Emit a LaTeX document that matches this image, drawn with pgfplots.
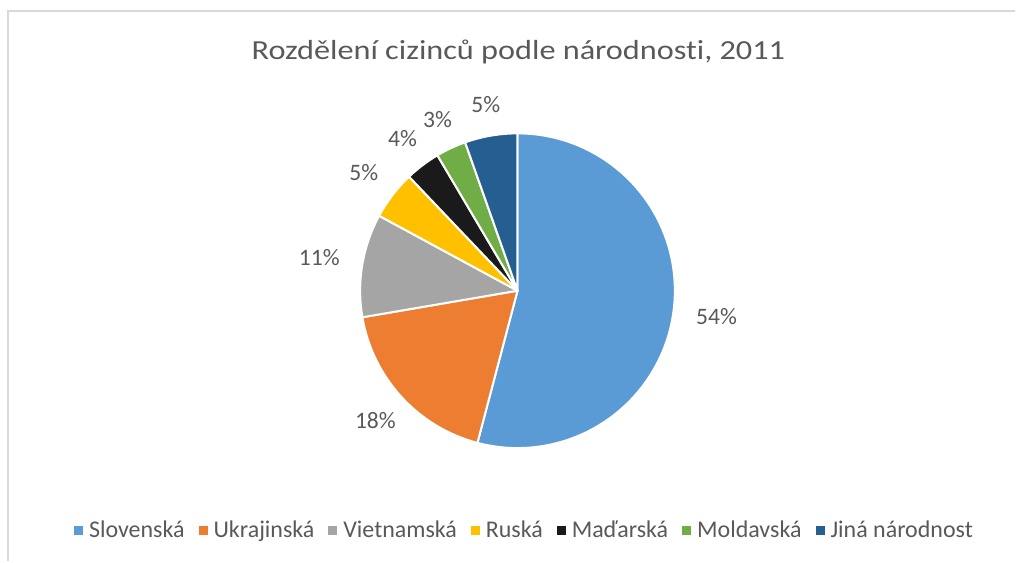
\documentclass[border=0pt]{standalone}
\usepackage{pgfplots}
\pgfplotsset{compat=1.18}
\usepackage{pgfplotstable}
\usepackage{fontspec}
\defaultfontfeatures{Ligatures={NoCommon}}
\setmainfont[Ligatures={NoCommon}]{Carlito}
\newfontfamily\titlefont[FakeStretch=1.17, Ligatures={NoCommon}]{Carlito}
\definecolor{cSlov}{HTML}{5B9BD5}
\definecolor{cUkr}{HTML}{ED7D31}
\definecolor{cViet}{HTML}{A5A5A5}
\definecolor{cRus}{HTML}{FFC000}
\definecolor{cMad}{HTML}{1A1A1A}
\definecolor{cMol}{HTML}{70AD47}
\definecolor{cJin}{HTML}{255E91}
\definecolor{txt}{HTML}{595959}
\definecolor{framec}{HTML}{D9D9D9}
\def\lblfont{\fontsize{11.8}{14}\selectfont}

\pgfplotstableread[col sep=comma]{
name,value,color
Slovenská,54.1,cSlov
Ukrajinská,18.2,cUkr
Vietnamská,10.6,cViet
Ruská,5.0,cRus
Maďarská,3.6,cMad
Moldavská,3.1,cMol
Jiná národnost,5.4,cJin
}\piedata

\begin{document}
\begin{tikzpicture}
\begin{axis}[
  x=0.5pt, y=0.5pt,
  xmin=0, xmax=1016, ymin=0, ymax=562,
  y dir=reverse,
  axis lines=none,
  clip=false,
  legend columns=7,
  legend image code/.code={\fill[#1, draw=none] (0pt,-2.25pt) rectangle (4.5pt,2.25pt);},
  legend style={at={(axis cs:524,531)}, anchor=center, draw=none, fill=none,
    font=\fontsize{12}{14}\selectfont, text=txt,
    nodes={inner sep=0pt, text=txt},
    /tikz/every odd column/.style={column sep=3pt},
    /tikz/every even column/.style={column sep=7pt}},
]
\path (axis cs:0,0) rectangle (axis cs:1016,562);
\draw[framec, line width=1pt] (axis cs:8,562) -- (axis cs:8,11) -- (axis cs:1016,11);
\node[anchor=base, text=txt, font=\titlefont\fontsize{13.8}{16}\selectfont] at (axis cs:519,60) {Rozdělení cizinců podle národnosti, 2011};
\def\cum{0}
\pgfplotsforeachungrouped \i in {0,...,6}{%
  \pgfplotstablegetelem{\i}{value}\of\piedata \let\v\pgfplotsretval
  \pgfplotstablegetelem{\i}{color}\of\piedata \let\c\pgfplotsretval
  \pgfplotstablegetelem{\i}{name}\of\piedata \let\nm\pgfplotsretval
  \pgfmathsetmacro\a{90-3.6*\cum}%
  \pgfmathsetmacro\b{90-3.6*(\cum+\v)}%
  \pgfmathsetmacro\m{(\a+\b)/2}%
  \pgfmathtruncatemacro\an{mod(\m+540,360)}%
  \pgfmathtruncatemacro\p{round(\v)}%
  \edef\temp{%
    \noexpand\filldraw[fill=\c, draw=white, line width=1pt, line join=round] (axis cs:518,291) -- ++(\a:78.75pt) arc[start angle=\a, end angle=\b, radius=78.75pt] -- cycle;
    \noexpand\path (axis cs:518,291) ++(\m:90pt) node[anchor=\an, inner sep=0pt, text=txt, font=\noexpand\lblfont] {\p\noexpand\%};
    \noexpand\addlegendimage{fill=\c}
    \noexpand\addlegendentry{\nm}
  }\temp
  \pgfmathsetmacro\cum{\cum+\v}%
}
\end{axis}
\end{tikzpicture}
\end{document}
